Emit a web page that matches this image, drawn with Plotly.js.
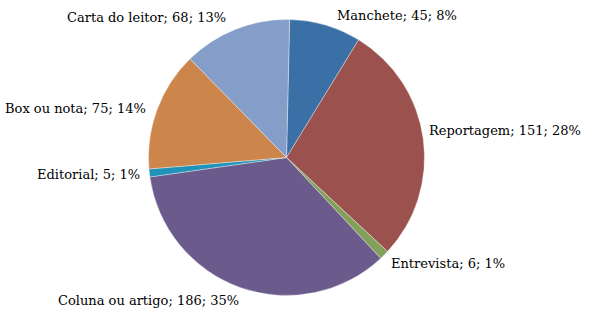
<!DOCTYPE html>
<html>
<head>
<meta charset="utf-8">
<script src="https://cdn.plot.ly/plotly-3.0.1.min.js"></script>
<style>html,body{margin:0;padding:0;background:#fff;}#chart{width:589px;height:315px;}</style>
</head>
<body>
<div id="chart"></div>
<script>
var categories = ["Manchete", "Reportagem", "Entrevista", "Coluna ou artigo", "Editorial", "Box ou nota", "Carta do leitor"];
var values = [45, 151, 6, 186, 5, 75, 68];
var colors = ["#3A70A6", "#9B514D", "#82A05A", "#6B5B8C", "#1F93B8", "#CC864C", "#859DC9"];
// label anchor positions (pixels)
var labelX = [397, 505, 448, 148, 88, 75, 146];
var labelY = [15, 130, 263, 300, 174, 108, 17];

var W = 589, H = 315;
var total = values.reduce(function(a, b){ return a + b; }, 0);
var annotations = categories.map(function(c, i){
  return {
    text: c + "; " + values[i] + "; " + Math.round(values[i] / total * 100) + "%",
    x: labelX[i] / W, y: 1 - labelY[i] / H,
    xref: "paper", yref: "paper", xanchor: "center", yanchor: "middle",
    showarrow: false,
    font: {family: "DejaVu Serif", size: 13, color: "#000"}
  };
});

var cx = 286.5, cy = 157.5, r = 138;
var trace = {
  type: "pie",
  labels: categories,
  values: values,
  sort: false,
  direction: "clockwise",
  rotation: 1.3,
  textinfo: "none",
  hoverinfo: "label+value+percent",
  marker: {colors: colors, line: {color: "rgba(255,255,255,0.6)", width: 0.6}},
  domain: {x: [(cx - r) / W, (cx + r) / W], y: [1 - (cy + r) / H, 1 - (cy - r) / H]}
};

Plotly.newPlot("chart", [trace], {
  width: W, height: H,
  margin: {l: 0, r: 0, t: 0, b: 0},
  showlegend: false,
  paper_bgcolor: "#fff",
  annotations: annotations
}, {displayModeBar: false, staticPlot: true});
</script>
</body>
</html>
